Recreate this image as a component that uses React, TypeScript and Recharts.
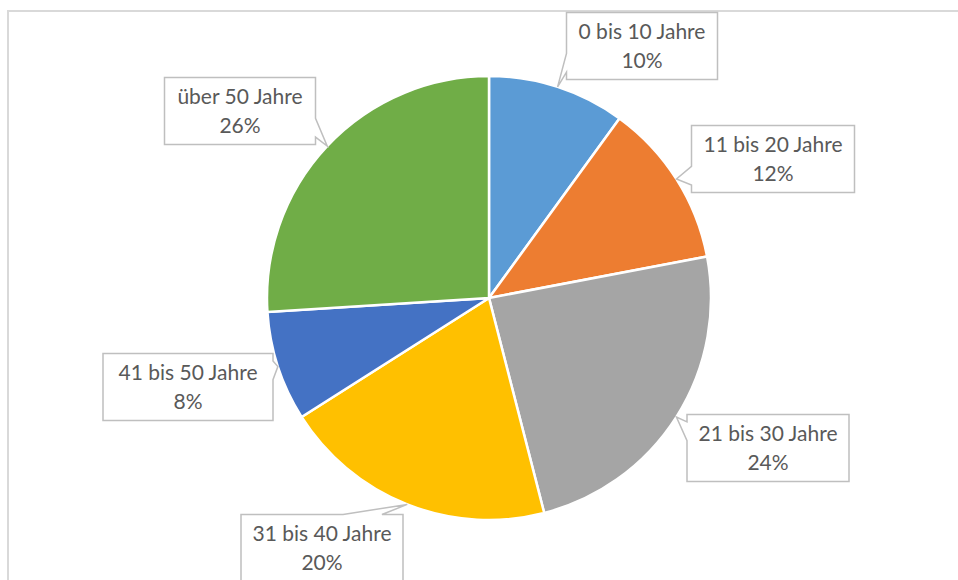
import { PieChart, Pie, Cell } from 'recharts';

const ageGroups = ['0 bis 10 Jahre', '11 bis 20 Jahre', '21 bis 30 Jahre', '31 bis 40 Jahre', '41 bis 50 Jahre', 'über 50 Jahre'];
const shares = [10, 12, 24, 20, 8, 26];
const sliceColors = ['#5B9BD5', '#ED7D31', '#A5A5A5', '#FFC000', '#4472C4', '#70AD47'];

// callout boxes: centre offset from pie centre, box width
const calloutLayout = [
  { dx: 153, dy: -252, w: 151 },
  { dx: 284, dy: -139, w: 163 },
  { dx: 279, dy: 150, w: 162 },
  { dx: -167, dy: 250, w: 162 },
  { dx: -301, dy: 89, w: 170 },
  { dx: -249, dy: -187, w: 151 },
];

const CX = 489;
const CY = 298;
const R = 222;
const BOX_H = 67;
const RAD = Math.PI / 180;
const FONT = "Lato, 'Liberation Sans', sans-serif";

const clamp = (v: number, lo: number, hi: number) => Math.max(lo, Math.min(hi, v));

function calloutPath(x: number, y: number, w: number, h: number, tx: number, ty: number) {
  const ox = tx < x ? x - tx : tx > x + w ? tx - (x + w) : 0;
  const oy = ty < y ? y - ty : ty > y + h ? ty - (y + h) : 0;
  if (ox === 0 && oy === 0) return `M${x},${y}H${x + w}V${y + h}H${x}Z`;
  if (ox > oy) {
    const half = h * 0.14;
    const c = clamp(ty, y + h * 0.25, y + h * 0.75);
    if (tx < x) return `M${x},${y}H${x + w}V${y + h}H${x}V${c + half}L${tx},${ty}L${x},${c - half}Z`;
    return `M${x},${y}H${x + w}V${c - half}L${tx},${ty}L${x + w},${c + half}V${y + h}H${x}Z`;
  }
  const half = w * 0.12;
  const c = clamp(tx, x + w * 0.25, x + w * 0.75);
  if (ty < y) return `M${x},${y}H${c - half}L${tx},${ty}L${c + half},${y}H${x + w}V${y + h}H${x}Z`;
  return `M${x},${y}H${x + w}V${y + h}H${c + half}L${tx},${ty}L${c - half},${y + h}H${x}Z`;
}

const data = ageGroups.map((name, i) => ({ name, value: shares[i] }));

function renderCallout(props: any) {
  const { cx, cy, midAngle, outerRadius, index, percent } = props;
  const tx = cx + outerRadius * Math.cos(-midAngle * RAD);
  const ty = cy + outerRadius * Math.sin(-midAngle * RAD);
  const lay = calloutLayout[index];
  const bx = cx + lay.dx - lay.w / 2;
  const by = cy + lay.dy - BOX_H / 2;
  const mx = cx + lay.dx;
  const my = cy + lay.dy;
  return (
    <g key={`callout-${index}`}>
      <path d={calloutPath(bx, by, lay.w, BOX_H, tx, ty)} fill="#ffffff" stroke="#BFBFBF" strokeWidth={1.5} />
      <text x={mx} y={my - 7} textAnchor="middle" fill="#595959" fontSize={21} fontFamily={FONT}>
        {ageGroups[index]}
      </text>
      <text x={mx} y={my + 22} textAnchor="middle" fill="#595959" fontSize={21} fontFamily={FONT}>
        {`${Math.round(percent * 100)}%`}
      </text>
    </g>
  );
}

export default function App() {
  return (
    <div style={{ position: 'absolute', left: 0, top: 0, width: 958, height: 580, overflow: 'hidden', background: '#fff' }}>
      <div
        style={{
          position: 'absolute',
          left: 7,
          top: 10,
          width: 1000,
          height: 1000,
          borderTop: '2px solid #D9D9D9',
          borderLeft: '2px solid #D9D9D9',
        }}
      />
      <div style={{ position: 'absolute', left: 0, top: 0 }}>
        <PieChart width={958} height={580} margin={{ top: 0, right: 0, bottom: 0, left: 0 }}>
          <Pie
            data={data}
            dataKey="value"
            nameKey="name"
            cx={CX}
            cy={CY}
            outerRadius={R}
            startAngle={90}
            endAngle={-270}
            stroke="#ffffff"
            strokeWidth={2.5}
            label={renderCallout}
            labelLine={false}
            isAnimationActive={false}
          >
            {data.map((d, i) => (
              <Cell key={d.name} fill={sliceColors[i]} />
            ))}
          </Pie>
        </PieChart>
      </div>
    </div>
  );
}
